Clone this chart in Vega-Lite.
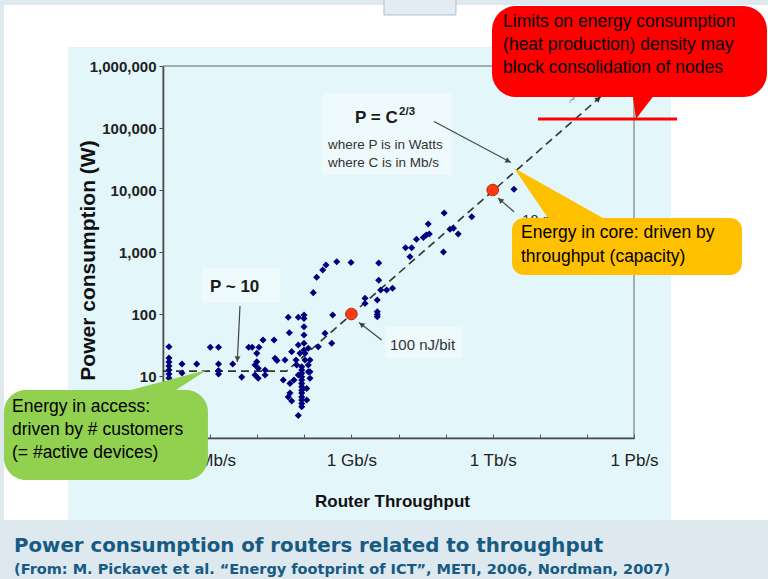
{
"$schema":"https://vega.github.io/schema/vega-lite/v6.json",
"width":471,"height":372,"autosize":"none",
"padding":{"left":163,"top":66,"right":134,"bottom":141},
"background":"#e3f6fa",
"config":{"view":{"stroke":null},"font":"Liberation Sans"},
"encoding":{
 "x":{"field":"x","type":"quantitative","scale":{"type":"log","domain":[0.1,1000000000],"nice":false,"zero":false},
  "axis":{"title":"Router Throughput","values":[0.1,1,10,100,1000,10000,100000,1000000,10000000,100000000,1000000000],
   "labelExpr":"datum.value==1?'1 Mb/s':datum.value==1000?'1 Gb/s':datum.value==1000000?'1 Tb/s':datum.value==1000000000?'1 Pb/s':''",
   "grid":false,"tickSize":-4,"tickColor":"#555","domainColor":"#333","domainWidth":1.5,"labelPadding":18,"labelFontSize":17,"labelColor":"#222","labelOverlap":false,"labelFlush":false,"labelBound":false,
   "titleFontSize":17,"titleFontWeight":"bold","titleColor":"#111","titleX":229,"titleY":63,"titleBaseline":"middle","titleAlign":"center"}},
 "y":{"field":"y","type":"quantitative","scale":{"type":"log","domain":[1,1000000],"nice":false,"zero":false},
  "axis":{"title":"Power consumption (W)","values":[1,10,100,1000,10000,100000,1000000],
   "labelExpr":"datum.value>=10?format(datum.value,','):''",
   "grid":false,"tickSize":4,"tickColor":"#444","domainColor":"#333","domainWidth":1.5,"labelPadding":3,"labelFontSize":15,"labelFontWeight":"bold","labelColor":"#222","labelOverlap":false,"labelFlush":false,"labelBound":false,
   "titleFontSize":21,"titleFontWeight":"bold","titleColor":"#111","titleX":-75,"titleY":194,"titleBaseline":"middle","titleAlign":"center"}}
},
"layer":[
 {"data":{"values":[{"x":0.00001,"x2":1e13,"y":1e8,"y2":9640000},{"x":0.00001,"x2":0.000042,"y":1e8,"y2":0.001},{"x":0.00001,"x2":1e13,"y":0.0475,"y2":0.001}]},
  "mark":{"type":"rect","fill":"#dde8ef"},"encoding":{"x2":{"field":"x2"},"y2":{"field":"y2"}}},
 {"data":{"values":[{"x":0.000042,"x2":1e13,"y":9640000,"y2":2020000},{"x":0.000042,"x2":0.00096,"y":2020000,"y2":0.0475},{"x":6100000000,"x2":1e13,"y":2020000,"y2":0.0475}]},
  "mark":{"type":"rect","fill":"#ffffff"},"encoding":{"x2":{"field":"x2"},"y2":{"field":"y2"}}},
 {"data":{"values":[{"x":4920,"x2":166000,"y":1e8,"y2":6650000}]},
  "mark":{"type":"rect","fill":"#e2ecf2","stroke":"#a9c3d5","strokeWidth":1},"encoding":{"x2":{"field":"x2"},"y2":{"field":"y2"}}},
 {"data":{"values":[{"x":238,"x2":137000,"y":367000,"y2":17500},{"x":0.673,"x2":30.5,"y":552,"y2":150},{"x":5164,"x2":223000,"y":61.7,"y2":19.5}]},
  "mark":{"type":"rect","fill":"#eef9fc"},"encoding":{"x2":{"field":"x2"},"y2":{"field":"y2"}}},
 {"data":{"values":[{"x":0.1,"x2":1000000000,"y":1,"y2":1000000}]},
  "mark":{"type":"rect","fill":"transparent","stroke":"#666","strokeWidth":1},"encoding":{"x2":{"field":"x2"},"y2":{"field":"y2"}}},
 {"data":{"values":[{"x":0.1,"y":12},{"x":42,"y":12},{"x":196000000,"y":320000}]},
  "mark":{"type":"line","color":"#333","strokeWidth":1.6,"strokeDash":[8,5]}},
 {"data":{"values":[
  {"x":0.134,"y":29.7},{"x":0.134,"y":19.5},{"x":0.134,"y":16.8},{"x":0.134,"y":14.5},{"x":0.134,"y":12.5},{"x":0.134,"y":10.8},{"x":0.134,"y":9.3},
  {"x":0.253,"y":15.6},{"x":0.253,"y":11.2},{"x":0.52,"y":15.6},{"x":1.01,"y":29},{"x":1.51,"y":29},{"x":1.51,"y":15.6},{"x":1.51,"y":12.2},{"x":1.51,"y":10.8},{"x":3.02,"y":15.6},{"x":4.69,"y":9.6},{"x":6.6,"y":29},{"x":7.8,"y":29},{"x":10.9,"y":29},{"x":13.3,"y":38.1},{"x":22.8,"y":38.1},{"x":9.8,"y":23.2},{"x":9.8,"y":17},{"x":9.0,"y":15},{"x":10.5,"y":13.3},{"x":9.0,"y":10.4},{"x":10.5,"y":9.2},{"x":14.7,"y":12.5},{"x":14.7,"y":10.4},{"x":23.9,"y":19.3},{"x":26.3,"y":17.8},
  {"x":45.7,"y":88.5},{"x":74.6,"y":88.5},{"x":98.6,"y":96.4},{"x":98.6,"y":84.5},{"x":48.1,"y":49.9},{"x":98.6,"y":62.4},{"x":98.6,"y":45.8},{"x":74.6,"y":31.6},{"x":98.6,"y":33.7},{"x":121.6,"y":28},{"x":54,"y":24.7},{"x":38.9,"y":18.1},{"x":66.7,"y":18.1},{"x":81.1,"y":23.2},{"x":103.5,"y":23.2},{"x":103.5,"y":18.1},{"x":132,"y":18.1},{"x":35.8,"y":8.6},{"x":49.7,"y":7.6},
  {"x":88.1,"y":14.1},{"x":88.1,"y":12.5},{"x":88.1,"y":11.1},{"x":88.1,"y":9.75},{"x":88.1,"y":8.6},{"x":88.1,"y":7.6},{"x":88.1,"y":6.7},{"x":88.1,"y":5.9},{"x":88.1,"y":5.3},{"x":88.1,"y":4.6},{"x":88.1,"y":4.1},{"x":88.1,"y":3.6},{"x":88.1,"y":3.2},
  {"x":121.6,"y":15},{"x":121.6,"y":11.7},{"x":132,"y":9.2},{"x":49.7,"y":5.3},{"x":45.7,"y":4.6},{"x":54,"y":3.95},{"x":74.6,"y":2.3},{"x":112.5,"y":6.3},{"x":112.5,"y":4.1},{"x":69,"y":15},{"x":74.6,"y":10.4},{"x":60.4,"y":8.6},{"x":132,"y":11.7},{"x":198,"y":29.7},{"x":275,"y":48.9},{"x":401,"y":96.4},{"x":382,"y":33.7},{"x":98.6,"y":26.2},
  {"x":155,"y":221},{"x":183,"y":391},{"x":246,"y":513},{"x":289,"y":617},{"x":488,"y":698},{"x":982,"y":677},{"x":3800,"y":665},{"x":3800,"y":350},{"x":4190,"y":244},{"x":5610,"y":244},{"x":7470,"y":260},{"x":1946,"y":179},{"x":1946,"y":148},{"x":3548,"y":168},{"x":3548,"y":109},{"x":3548,"y":98},{"x":3548,"y":90.4},{"x":14090,"y":1173},{"x":19060,"y":1173},{"x":17540,"y":839},{"x":24100,"y":1602},{"x":33650,"y":1714},{"x":38900,"y":1880},{"x":45080,"y":1952},{"x":42760,"y":2830},{"x":93300,"y":4256},{"x":90100,"y":1000},{"x":123900,"y":2323},{"x":147200,"y":2412},{"x":185300,"y":1952},{"x":359700,"y":3710},{"x":2830000,"y":10250}
 ]},
  "mark":{"type":"point","shape":"diamond","filled":true,"size":50,"color":"#00007e","opacity":1}},
 {"data":{"values":[{"x":1000,"y":100},{"x":1000000,"y":10000}]},
  "mark":{"type":"point","shape":"circle","filled":true,"size":135,"fill":"#ff3a10","stroke":"#b02a0a","strokeWidth":1,"opacity":1}},
 {"data":{"values":[{"x":56800,"y":127000,"x2":2450000,"y2":27800},{"x":4.31,"y":134.6,"x2":3.78,"y2":16.8},{"x":4395,"y":38.1,"x2":1449,"y2":72.9},{"x":2830000,"y":4467,"x2":1300000,"y2":7430}]},
  "mark":{"type":"rule","color":"#444","strokeWidth":1.2},"encoding":{"x2":{"field":"x2"},"y2":{"field":"y2"}}},
 {"data":{"values":[{"x":2140000,"y":29200}]},"mark":{"type":"point","shape":"triangle-up","filled":true,"size":36,"color":"#444","opacity":1,"angle":118}},
 {"data":{"values":[{"x":3.8,"y":18.8}]},"mark":{"type":"point","shape":"triangle-up","filled":true,"size":36,"color":"#444","opacity":1,"angle":183}},
 {"data":{"values":[{"x":1630,"y":68.2}]},"mark":{"type":"point","shape":"triangle-up","filled":true,"size":36,"color":"#444","opacity":1,"angle":308}},
 {"data":{"values":[{"x":1450000,"y":6900}]},"mark":{"type":"point","shape":"triangle-up","filled":true,"size":36,"color":"#444","opacity":1,"angle":311}},
 {"data":{"values":[{"x":176000000,"y":297000}]},"mark":{"type":"point","shape":"triangle-up","filled":true,"size":40,"color":"#333","opacity":1,"angle":49}},
 {"data":{"values":[{"x":1191,"y":145000,"t":"P = C"},{"x":0.995,"y":272,"t":"P ~ 10"}]},
  "mark":{"type":"text","align":"left","baseline":"middle","fontSize":17,"fontWeight":"bold","color":"#1a1a1a"},"encoding":{"text":{"field":"t"}}},
 {"data":{"values":[{"x":10300,"y":183000,"t":"2/3"}]},
  "mark":{"type":"text","align":"left","baseline":"middle","fontSize":11.5,"fontWeight":"bold","color":"#1a1a1a"},"encoding":{"text":{"field":"t"}}},
 {"data":{"values":[{"x":318,"y":53200,"t":"where P is in Watts"},{"x":318,"y":27200,"t":"where C is in Mb/s"}]},
  "mark":{"type":"text","align":"left","baseline":"middle","fontSize":13.5,"color":"#333"},"encoding":{"text":{"field":"t"}}},
 {"data":{"values":[{"x":6607,"y":31.6,"t":"100 nJ/bit"},{"x":4190000,"y":3281,"t":"10 nJ/bit"}]},
  "mark":{"type":"text","align":"left","baseline":"middle","fontSize":15,"color":"#333"},"encoding":{"text":{"field":"t"}}},
 {"data":{"values":[{"x":39700000,"y":294000,"t":"?"}]},
  "mark":{"type":"text","align":"left","baseline":"middle","fontSize":11,"color":"#777","angle":20},"encoding":{"text":{"field":"t"}}},
 {"data":{"values":[{"x":966000,"x2":667000000000,"y":9290000,"y2":316000}]},
  "mark":{"type":"rect","fill":"#ff0000","cornerRadius":24},"encoding":{"x2":{"field":"x2"},"y2":{"field":"y2"}}},
 {"data":{"values":[{"y":410000,"x":908000000,"x2":3240000000},{"y":140000,"x":1100000000,"x2":1100000000}]},
  "mark":{"type":"area","orient":"horizontal","fill":"#ff0000"},"encoding":{"x2":{"field":"x2"}}},
 {"data":{"values":[{"x":2570000,"x2":196000000000,"y":3532,"y2":425.6}]},
  "mark":{"type":"rect","fill":"#ffc000","cornerRadius":12},"encoding":{"x2":{"field":"x2"},"y2":{"field":"y2"}}},
 {"data":{"values":[{"y":22600,"x":2830000,"x2":2830000},{"y":3048,"x":17000000,"x2":309000000}]},
  "mark":{"type":"area","orient":"horizontal","fill":"#ffc000"},"encoding":{"x2":{"field":"x2"}}},
 {"data":{"values":[{"x":0.000042,"x2":0.9,"y":5.94,"y2":0.21}]},
  "mark":{"type":"rect","fill":"#92d050","cornerRadius":22},"encoding":{"x2":{"field":"x2"},"y2":{"field":"y2"}}},
 {"data":{"values":[{"y":12.5,"x":0.847,"x2":0.847},{"y":5.52,"x":0.01416,"x2":0.163}]},
  "mark":{"type":"area","orient":"horizontal","fill":"#92d050"},"encoding":{"x2":{"field":"x2"}}},
 {"data":{"values":[{"x":9160000,"x2":8180000000,"y":140000}]},
  "mark":{"type":"rule","color":"#ff0000","strokeWidth":3},"encoding":{"x2":{"field":"x2"}}},
 {"data":{"values":[
  {"x":1660000,"y":5130000,"t":"Limits on energy consumption"},{"x":1660000,"y":2180000,"t":"(heat production) density may"},{"x":1660000,"y":929000,"t":"block consolidation of nodes"},
  {"x":3990000,"y":2023,"t":"Energy in core: driven by"},{"x":3990000,"y":829,"t":"throughput (capacity)"},
  {"x":0.0000622,"y":3.2,"t":"Energy in access:"},{"x":0.0000622,"y":1.346,"t":"driven by # customers"},{"x":0.0000622,"y":0.573,"t":"(= #active devices)"}
 ]},
  "mark":{"type":"text","align":"left","baseline":"middle","fontSize":17.5,"color":"#000"},"encoding":{"text":{"field":"t"}}},
 {"data":{"values":[{"x":0.0000687,"y":0.01812,"t":"Power consumption of routers related to throughput"}]},
  "mark":{"type":"text","align":"left","baseline":"middle","fontSize":19.8,"font":"DejaVu Sans","fontWeight":"bold","color":"#175a82"},"encoding":{"text":{"field":"t"}}},
 {"data":{"values":[{"x":0.0000687,"y":0.00743,"t":"(From: M. Pickavet et al. “Energy footprint of ICT”, METI, 2006, Nordman, 2007)"}]},
  "mark":{"type":"text","align":"left","baseline":"middle","fontSize":14.5,"font":"DejaVu Sans","fontWeight":"bold","color":"#175a82"},"encoding":{"text":{"field":"t"}}}
]
}
